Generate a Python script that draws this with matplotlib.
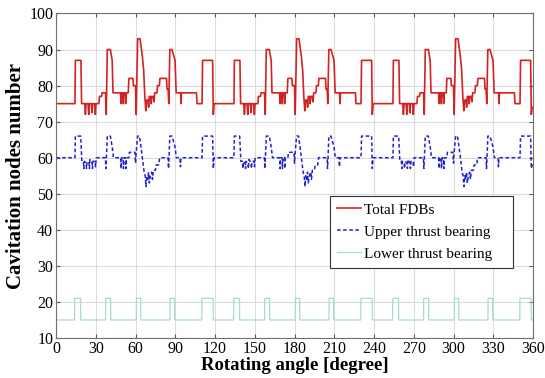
import matplotlib
matplotlib.use("Agg")
import matplotlib.pyplot as plt

plt.rcParams['font.family'] = ['Liberation Serif', 'DejaVu Serif']

# Total FDBs (three 120 degree cycles)
red_angle = [
    0, 14.3, 14.6, 18.8, 19.3, 21.7, 22.2, 22.7, 24.2, 24.7, 25.2, 26.7, 27.2, 27.7, 29.2, 29.7, 30.2,
    32.3, 32.8, 34.3, 34.8, 37.4, 37.9, 38.7, 41, 42.4, 43, 48.7, 49, 49.4, 50.5, 50.8, 51.2, 52.3,
    52.6, 53, 54.5, 55, 58, 58.4, 60, 60.5, 61.6, 63.4, 65.2, 66.2, 67, 67.8, 68.4, 69.4, 69.9, 70.4,
    71.4, 71.8, 72.3, 73.4, 73.9, 74.5, 76.2, 76.6, 78, 78.4, 83.4, 83.8, 84.6, 85.1, 85.9, 87.5,
    89.8, 90.7, 94, 94.3, 94.7, 106, 106.4, 110.2, 110.6, 118.2, 118.7, 119.3,
    120, 134.3, 134.6, 138.8, 139.3, 141.7, 142.2, 142.7, 144.2, 144.7, 145.2, 146.7, 147.2, 147.7,
    149.2, 149.7, 150.2, 152.3, 152.8, 154.3, 154.8, 157.4, 157.9, 158.7, 161, 162.4, 163, 168.7,
    169, 169.4, 170.5, 170.8, 171.2, 172.3, 172.6, 173, 174.5, 175, 178, 178.4, 180, 180.5, 181.6,
    183.4, 185.2, 186.2, 187, 187.8, 188.4, 189.4, 189.9, 190.4, 191.4, 191.8, 192.3, 193.4, 193.9,
    194.5, 196.2, 196.6, 198, 198.4, 203.4, 203.8, 204.6, 205.1, 205.9, 207.5, 209.8, 210.7, 214,
    214.3, 214.7, 226, 226.4, 230.2, 230.6, 238.2, 238.7, 239.3,
    240, 254.3, 254.6, 258.8, 259.3, 261.7, 262.2, 262.7, 264.2, 264.7, 265.2, 266.7, 267.2, 267.7,
    269.2, 269.7, 270.2, 272.3, 272.8, 274.3, 274.8, 277.4, 277.9, 278.7, 281, 282.4, 283, 288.7,
    289, 289.4, 290.5, 290.8, 291.2, 292.3, 292.6, 293, 294.5, 295, 298, 298.4, 300, 300.5, 301.6,
    303.4, 305.2, 306.2, 307, 307.8, 308.4, 309.4, 309.9, 310.4, 311.4, 311.8, 312.3, 313.4, 313.9,
    314.5, 316.2, 316.6, 318, 318.4, 323.4, 323.8, 324.6, 325.1, 325.9, 327.5, 329.8, 330.7, 334,
    334.3, 334.7, 346, 346.4, 350.2, 350.6, 358.2, 358.7, 359.3, 360,
]
red_value = [
    75, 75, 87, 87, 75, 75, 72, 75, 75, 72, 75, 75, 72.5, 75, 75, 72, 75,
    75, 77, 77, 78, 78, 72, 90, 90, 87, 78, 78, 75, 78, 78, 75, 78, 78,
    75, 78, 78, 82, 82, 80, 80, 72, 93, 93, 88, 84, 77, 73, 76, 76, 74, 77,
    77, 75, 77, 77, 75.5, 78, 78, 80, 80, 82, 82, 79, 79, 75, 90, 90,
    87, 78, 78, 75, 78, 78, 75, 75, 87, 87, 72, 75,
    75, 75, 87, 87, 75, 75, 72, 75, 75, 72, 75, 75, 72.5, 75,
    75, 72, 75, 75, 77, 77, 78, 78, 72, 90, 90, 87, 78, 78,
    75, 78, 78, 75, 78, 78, 75, 78, 78, 82, 82, 80, 80, 72, 93,
    93, 88, 84, 77, 73, 76, 76, 74, 77, 77, 75, 77, 77, 75.5,
    78, 78, 80, 80, 82, 82, 79, 79, 75, 90, 90, 87, 78, 78,
    75, 78, 78, 75, 75, 87, 87, 72, 75,
    75, 75, 87, 87, 75, 75, 72, 75, 75, 72, 75, 75, 72.5, 75,
    75, 72, 75, 75, 77, 77, 78, 78, 72, 90, 90, 87, 78, 78,
    75, 78, 78, 75, 78, 78, 75, 78, 78, 82, 82, 80, 80, 72, 93,
    93, 88, 84, 77, 73, 76, 76, 74, 77, 77, 75, 77, 77, 75.5,
    78, 78, 80, 80, 82, 82, 79, 79, 75, 90, 90, 87, 78, 78,
    75, 78, 78, 75, 75, 87, 87, 72, 74, 74,
]

# Upper thrust bearing
blue_angle = [
    0, 14.3, 14.6, 18.6, 19.5, 20.7, 21, 21.4, 22.7, 23, 23.4, 24.9, 25.2, 25.6, 27.2, 27.5, 27.9,
    29.5, 29.8, 30.3, 37.3, 37.6, 38, 38.7, 41, 42.4, 43.4, 48.8, 49.1, 49.5, 50.6, 50.9, 51.3, 52.4,
    52.7, 53.1, 55, 55.4, 59.6, 60, 60.5, 61.6, 63, 64.5, 65.5, 66.5, 67.3, 67.9, 68.5, 69.3, 69.8,
    70.4, 71.2, 72.2, 72.8, 73.4, 75, 75.6, 77.5, 78.2, 84.6, 84.9, 85.3, 85.9, 87.5, 89.8, 90.8,
    93.6, 93.9, 94.3, 110.2, 110.6, 118.2, 118.7, 119.3,
    120, 134.3, 134.6, 138.6, 139.5, 140.7, 141, 141.4, 142.7, 143, 143.4, 144.9, 145.2, 145.6,
    147.2, 147.5, 147.9, 149.5, 149.8, 150.3, 157.3, 157.6, 158, 158.7, 161, 162.4, 163.4, 168.8,
    169.1, 169.5, 170.6, 170.9, 171.3, 172.4, 172.7, 173.1, 175, 175.4, 179.6, 180, 180.5, 181.6,
    183, 184.5, 185.5, 186.5, 187.3, 187.9, 188.5, 189.3, 189.8, 190.4, 191.2, 192.2, 192.8, 193.4,
    195, 195.6, 197.5, 198.2, 204.6, 204.9, 205.3, 205.9, 207.5, 209.8, 210.8, 213.6, 213.9, 214.3,
    230.2, 230.6, 238.2, 238.7, 239.3,
    240, 254.3, 254.6, 258.6, 259.5, 260.7, 261, 261.4, 262.7, 263, 263.4, 264.9, 265.2, 265.6,
    267.2, 267.5, 267.9, 269.5, 269.8, 270.3, 277.3, 277.6, 278, 278.7, 281, 282.4, 283.4, 288.8,
    289.1, 289.5, 290.6, 290.9, 291.3, 292.4, 292.7, 293.1, 295, 295.4, 299.6, 300, 300.5, 301.6,
    303, 304.5, 305.5, 306.5, 307.3, 307.9, 308.5, 309.3, 309.8, 310.4, 311.2, 312.2, 312.8, 313.4,
    315, 315.6, 317.5, 318.2, 324.6, 324.9, 325.3, 325.9, 327.5, 329.8, 330.8, 333.6, 333.9, 334.3,
    350.2, 350.6, 358.2, 358.7, 359.3, 360,
]
blue_value = [
    60, 60, 66, 66, 59, 59, 57, 59, 58.5, 57, 59, 58.5, 57, 59.5, 58.5, 57, 59,
    59, 57.5, 60, 60, 57, 60, 66, 66, 63, 60, 60, 57, 60, 60, 57, 60, 60,
    57, 60, 60, 61.5, 61.5, 58.5, 61.5, 66, 66, 62, 59, 56, 55, 52, 55, 54, 56,
    53, 55, 56, 54, 56.5, 56.5, 58, 58, 60, 60, 57, 60, 66, 66, 63, 60,
    60, 57.5, 60, 60, 66, 66, 57, 60,
    60, 60, 66, 66, 59, 59, 57, 59, 58.5, 57, 59, 58.5, 57, 59.5,
    58.5, 57, 59, 59, 57.5, 60, 60, 57, 60, 66, 66, 63, 60, 60,
    57, 60, 60, 57, 60, 60, 57, 60, 60, 61.5, 61.5, 58.5, 61.5, 66,
    66, 62, 59, 56, 55, 52, 55, 54, 56, 53, 55, 56, 54, 56.5,
    56.5, 58, 58, 60, 60, 57, 60, 66, 66, 63, 60, 60, 57.5, 60,
    60, 66, 66, 57, 60,
    60, 60, 66, 66, 59, 59, 57, 59, 58.5, 57, 59, 58.5, 57, 59.5,
    58.5, 57, 59, 59, 57.5, 60, 60, 57, 60, 66, 66, 63, 60, 60,
    57, 60, 60, 57, 60, 60, 57, 60, 60, 61.5, 61.5, 58.5, 61.5, 66,
    66, 62, 59, 56, 55, 52, 55, 54, 56, 53, 55, 56, 54, 56.5,
    56.5, 58, 58, 60, 60, 57, 60, 66, 66, 63, 60, 60, 57.5, 60,
    60, 66, 66, 57, 58, 58,
]

# Lower thrust bearing
low_angle = [
    0, 14, 14.1, 18.5, 18.6, 37.4, 37.5, 41.2, 41.3, 60.6, 60.7, 63.9, 64, 86, 86.1, 89.5, 89.6,
    110, 110.1, 118.6, 118.7,
    134, 134.1, 138.5, 138.6, 157.4, 157.5, 161.2, 161.3, 180.6, 180.7, 183.9, 184, 206, 206.1,
    209.5, 209.6, 230, 230.1, 238.6, 238.7,
    254, 254.1, 258.5, 258.6, 277.4, 277.5, 281.2, 281.3, 300.6, 300.7, 303.9, 304, 326, 326.1,
    329.5, 329.6, 350, 350.1, 358.6, 358.7, 360,
]
low_value = [
    15, 15, 21, 21, 15, 15, 21, 21, 15, 15, 21, 21, 15, 15, 21, 21, 15,
    15, 21, 21, 15,
    15, 21, 21, 15, 15, 21, 21, 15, 15, 21, 21, 15, 15, 21,
    21, 15, 15, 21, 21, 15,
    15, 21, 21, 15, 15, 21, 21, 15, 15, 21, 21, 15, 15, 21,
    21, 15, 15, 21, 21, 15, 15,
]

x_ticks = list(range(0, 361, 30))
y_ticks = list(range(10, 101, 10))

fig = plt.figure(figsize=(5.45, 3.78), dpi=100)
ax = fig.add_axes([0.1028, 0.1058, 0.8752, 0.8585])

ax.plot(red_angle, red_value, color='#d42222', lw=1.2, label='Total FDBs')
ax.plot(blue_angle, blue_value, color='#2323c8', lw=1.1, dashes=(2.4, 1.6),
        label='Upper thrust bearing')
ax.plot(low_angle, low_value, color='#a6dbd3', lw=0.9, label='Lower thrust bearing')

ax.set_xlim(0, 360)
ax.set_ylim(10, 100)
ax.set_xticks(x_ticks)
ax.set_yticks(y_ticks)
ax.grid(True, color='#dcdcdc', lw=0.8)
ax.set_axisbelow(True)
ax.tick_params(direction='in', top=True, right=True, length=3, labelsize=11.5,
               color='#555555', pad=2)
for s in ax.spines.values():
    s.set_color('#707070')
    s.set_linewidth(0.8)

ax.set_xlabel('Rotating angle [degree]', fontsize=13.5, fontweight='bold', labelpad=0)
ax.set_ylabel('Cavitation nodes number', fontsize=15, fontweight='bold', labelpad=2)

leg = ax.legend(loc='lower left', bbox_to_anchor=(0.574, 0.217, 0.384, 0.222), mode='expand',
                borderaxespad=0, fontsize=11, fancybox=False, framealpha=1,
                edgecolor='#333333', handlelength=1.6, handletextpad=0.2,
                labelspacing=0.55, borderpad=0.45)
leg.get_frame().set_linewidth(0.8)

fig.savefig('out.png', dpi=100)
plt.close(fig)
